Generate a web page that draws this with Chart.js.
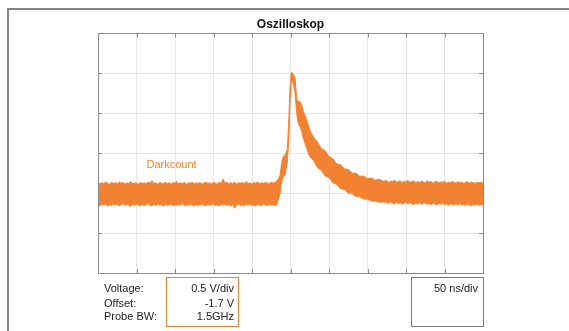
<!DOCTYPE html>
<html>
<head>
<meta charset="utf-8">
<script src="https://cdn.jsdelivr.net/npm/chart.js@4.4.1/dist/chart.umd.min.js"></script>
<style>
  html, body { margin: 0; padding: 0; background: #fff; overflow: hidden; }
  #wrap { position: relative; width: 569px; height: 331px; overflow: hidden; font-family: "Liberation Sans", Arial, sans-serif; }
  .frameL { position: absolute; left: 7px; top: 8px; width: 2px; height: 323px; background: #848484; }
  .frameT { position: absolute; left: 7px; top: 8px; width: 562px; height: 2px; background: #848484; }
  .cover { position: absolute; left: 564px; top: 10px; width: 5px; height: 321px; background: #fff; z-index: 5; }
  canvas { position: absolute; left: 0; top: 0; }
  .box { position: absolute; box-sizing: border-box; }
  .txt { position: absolute; font-size: 11px; line-height: 14px; color: #222; white-space: nowrap; }
  .r { text-align: right; }
</style>
</head>
<body>
<div id="wrap">
  <div class="frameL"></div>
  <div class="frameT"></div>
  <canvas id="scope" width="569" height="331"></canvas>
  <div class="cover"></div>
  <div class="box" style="left:166px;top:277px;width:73px;height:50px;border:1.5px solid #f28232;"></div>
  <div class="box" style="left:411px;top:277px;width:73px;height:50px;border:1px solid #7a7a7a;"></div>
  <div class="txt" style="left:104px;top:281px;">Voltage:</div>
  <div class="txt" style="left:104px;top:296px;">Offset:</div>
  <div class="txt" style="left:104px;top:309px;">Probe BW:</div>
  <div class="txt r" style="right:335px;top:281px;">0.5 V/div</div>
  <div class="txt r" style="right:335px;top:296px;">-1.7 V</div>
  <div class="txt r" style="right:335px;top:309px;">1.5GHz</div>
  <div class="txt r" style="right:91px;top:281px;">50 ns/div</div>
</div>
<script>
// time in divisions (50 ns/div), voltage in divisions (0.5 V/div)
const timeDiv = [
  0,0.05,0.1,0.15,0.2,0.25,0.3,0.35,0.4,0.45,0.5,0.55,0.6,0.65,0.7,0.75,0.8,0.85,0.9,0.95,
  1,1.05,1.1,1.15,1.2,1.25,1.3,1.35,1.4,1.45,1.5,1.55,1.6,1.65,1.7,1.75,1.8,1.85,1.9,1.95,
  2,2.05,2.1,2.15,2.2,2.25,2.3,2.35,2.4,2.45,2.5,2.55,2.6,2.65,2.7,2.75,2.8,2.85,2.9,2.95,
  3,3.05,3.1,3.15,3.2,3.25,3.3,3.35,3.4,3.45,3.5,3.55,3.6,3.65,3.7,3.75,3.8,3.85,3.9,3.95,
  4,4.05,4.1,4.15,4.2,4.25,4.3,4.35,4.4,4.45,4.5,4.55,4.6,
  // pulse
  4.64,4.69,4.73,4.77,4.81,4.86,4.92,4.96,4.99,5.01,5.03,5.07,5.12,5.16,5.20,5.25,5.29,5.33,
  // decay
  5.4,5.5,5.6,5.7,5.8,5.9,6.0,6.1,6.2,6.3,6.4,6.5,6.6,6.7,6.8,6.9,7.0,7.1,7.2,7.3,7.4,
  // tail
  7.5,7.55,7.6,7.65,7.7,7.75,7.8,7.85,7.9,7.95,8,8.05,8.1,8.15,8.2,8.25,8.3,8.35,8.4,8.45,
  8.5,8.55,8.6,8.65,8.7,8.75,8.8,8.85,8.9,8.95,9,9.05,9.1,9.15,9.2,9.25,9.3,9.35,9.4,9.45,
  9.5,9.55,9.6,9.65,9.7,9.75,9.8,9.85,9.9,9.95,10
];

// upper edge of the noise band
const upperEdge = [
  2.27,2.23,2.26,2.24,2.28,2.25,2.22,2.27,2.24,2.26,2.23,2.28,2.25,2.27,2.22,2.26,2.24,2.29,2.23,2.26,
  2.25,2.22,2.27,2.24,2.26,2.23,2.28,2.25,2.31,2.24,2.26,2.22,2.27,2.25,2.23,2.28,2.24,2.26,2.22,2.27,
  2.25,2.29,2.23,2.26,2.24,2.27,2.22,2.26,2.25,2.28,2.23,2.26,2.24,2.27,2.22,2.25,2.28,2.24,2.26,2.23,
  2.27,2.25,2.22,2.28,2.24,2.35,2.25,2.27,2.23,2.26,2.24,2.28,2.22,2.26,2.25,2.27,2.23,2.29,2.24,2.26,
  2.22,2.27,2.25,2.28,2.23,2.26,2.24,2.27,2.25,2.23,2.28,2.25,2.27,
  2.30,2.36,2.45,2.75,2.92,2.95,3.10,3.90,4.70,4.95,5.03,4.98,4.88,4.35,4.30,4.28,4.22,4.05,
  3.90,3.58,3.40,3.28,3.12,3.06,2.92,2.86,2.73,2.71,2.61,2.59,2.50,2.50,2.42,2.43,2.36,2.38,2.32,2.35,2.30,
  2.31,2.27,2.30,2.28,2.33,2.27,2.29,2.31,2.26,2.30,2.28,2.32,2.27,2.29,2.31,2.26,2.29,2.27,2.30,2.28,
  2.26,2.31,2.27,2.29,2.25,2.28,2.30,2.26,2.28,2.27,2.30,2.25,2.28,2.26,2.29,2.27,2.25,2.29,2.26,2.28,
  2.24,2.27,2.29,2.25,2.28,2.26,2.24,2.28,2.26,2.27,2.25
];

// lower edge of the noise band
const lowerEdge = [
  1.71,1.68,1.73,1.70,1.72,1.67,1.71,1.69,1.73,1.70,1.72,1.68,1.71,1.74,1.69,1.72,1.70,1.67,1.72,1.69,
  1.73,1.70,1.68,1.72,1.69,1.71,1.74,1.70,1.68,1.72,1.69,1.73,1.70,1.71,1.67,1.72,1.69,1.71,1.73,1.68,
  1.71,1.69,1.72,1.70,1.74,1.68,1.71,1.69,1.72,1.70,1.67,1.72,1.69,1.71,1.73,1.70,1.68,1.72,1.69,1.71,
  1.73,1.69,1.71,1.68,1.72,1.70,1.73,1.69,1.71,1.68,1.72,1.62,1.70,1.73,1.69,1.71,1.68,1.72,1.70,1.73,
  1.69,1.71,1.67,1.72,1.70,1.69,1.73,1.71,1.68,1.72,1.70,1.71,1.69,
  1.70,1.85,2.00,2.30,2.40,2.45,2.80,3.40,4.40,4.80,4.82,4.75,4.50,4.00,3.75,3.65,3.55,3.38,
  3.18,2.91,2.82,2.64,2.57,2.43,2.39,2.26,2.22,2.11,2.09,2.00,1.99,1.91,1.91,1.85,1.85,1.80,1.80,1.77,1.78,
  1.77,1.74,1.78,1.75,1.73,1.77,1.74,1.76,1.72,1.75,1.77,1.73,1.76,1.74,1.71,1.75,1.73,1.76,1.72,1.74,
  1.76,1.72,1.74,1.71,1.75,1.73,1.70,1.74,1.72,1.75,1.71,1.73,1.69,1.74,1.72,1.70,1.73,1.71,1.74,1.70,
  1.72,1.69,1.73,1.71,1.68,1.72,1.70,1.73,1.69,1.71,1.72
];

const xDivs = [0,1,2,3,4,5,6,7,8,9,10];
const yDivs = [0,1,2,3,4,5,6];
const traceName = "Darkcount";
const traceColor = "#f28232";

if (timeDiv.length !== upperEdge.length || timeDiv.length !== lowerEdge.length) {
  console.error("length mismatch", timeDiv.length, upperEdge.length, lowerEdge.length);
}

const scopeExtras = {
  id: "scopeExtras",
  afterDraw(chart) {
    const ctx = chart.ctx;
    const a = chart.chartArea;
    const sx = chart.scales.x, sy = chart.scales.y;
    ctx.save();
    ctx.strokeStyle = "#8a8a8a";
    ctx.lineWidth = 1;
    ctx.beginPath();
    xDivs.slice(1, -1).forEach(v => {
      const px = Math.round(sx.getPixelForValue(v)) + 0.5;
      ctx.moveTo(px, a.bottom); ctx.lineTo(px, a.bottom - 4);
      ctx.moveTo(px, a.top); ctx.lineTo(px, a.top + 4);
    });
    yDivs.slice(1, -1).forEach(v => {
      const py = Math.round(sy.getPixelForValue(v)) + 0.5;
      ctx.moveTo(a.left, py); ctx.lineTo(a.left + 4, py);
      ctx.moveTo(a.right, py); ctx.lineTo(a.right - 4, py);
    });
    ctx.stroke();
    ctx.strokeRect(Math.round(a.left) + 0.5, Math.round(a.top) + 0.5, Math.round(a.right - a.left), Math.round(a.bottom - a.top));
    ctx.fillStyle = traceColor;
    ctx.font = '11px "Liberation Sans", Arial, sans-serif';
    ctx.textAlign = "center";
    ctx.textBaseline = "middle";
    ctx.fillText(traceName, sx.getPixelForValue(1.91), sy.getPixelForValue(2.7));
    ctx.restore();
  }
};

new Chart(document.getElementById("scope"), {
  type: "line",
  data: {
    datasets: [
      {
        label: "upper",
        data: timeDiv.map((t, i) => ({ x: t, y: upperEdge[i] })),
        borderColor: traceColor,
        borderWidth: 1,
        pointRadius: 0,
        fill: false
      },
      {
        label: traceName,
        data: timeDiv.map((t, i) => ({ x: t, y: lowerEdge[i] })),
        borderColor: traceColor,
        backgroundColor: traceColor,
        borderWidth: 1,
        pointRadius: 0,
        fill: "-1"
      }
    ]
  },
  options: {
    responsive: false,
    animation: false,
    layout: { padding: { left: 98, right: 86, top: 0, bottom: 58 } },
    plugins: {
      legend: { display: false },
      tooltip: { enabled: false },
      title: {
        display: true,
        text: "Oszilloskop",
        color: "#111",
        font: { family: '"Liberation Sans", Arial, sans-serif', size: 12, weight: "bold" },
        padding: { top: 17, bottom: 2 }
      }
    },
    scales: {
      x: {
        type: "linear", min: 0, max: 10,
        ticks: { display: false, stepSize: 1 },
        grid: { color: "#e6e6e6", drawTicks: false },
        border: { display: false }
      },
      y: {
        type: "linear", min: 0, max: 6,
        ticks: { display: false, stepSize: 1 },
        grid: { color: "#e6e6e6", drawTicks: false },
        border: { display: false }
      }
    }
  },
  plugins: [scopeExtras]
});
</script>
</body>
</html>
